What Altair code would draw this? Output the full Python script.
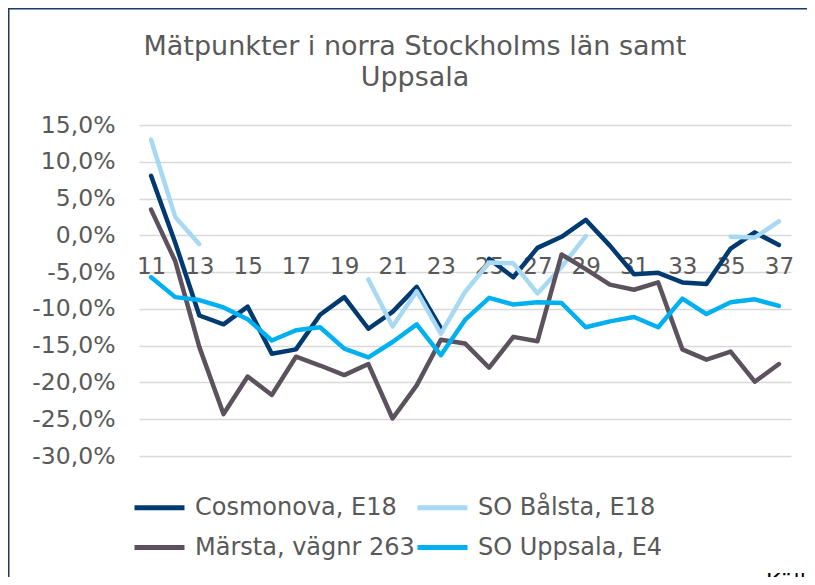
import altair as alt
import pandas as pd

weeks = list(range(11, 38))
# legend fills column by column, so this order gives rows: Cosmonova | SO Bålsta, Märsta | SO Uppsala
series_names = ["Cosmonova, E18", "Märsta, vägnr 263", "SO Bålsta, E18", "SO Uppsala, E4"]
series_colors = ["#003A70", "#5C525E", "#A7D9F2", "#00B0F0"]

cosmonova = [8.1, -1.0, -10.9, -12.1, -9.7, -16.1, -15.5, -10.8, -8.4, -12.7, -10.4, -7.0, -12.6,
             None, -3.2, -5.7, -1.7, -0.2, 2.1, -1.4, -5.3, -5.1, -6.4, -6.6, -1.8, 0.4, -1.3]
so_balsta = [13.0, 2.5, -1.2, None, None, None, None, None, None, -6.0, -12.4, -7.6, -13.4,
             -7.7, -3.7, -3.8, -7.9, -4.3, -0.1, None, None, None, None, None, -0.2, -0.3, 1.9]
marsta = [3.5, -3.5, -15.2, -24.3, -19.2, -21.7, -16.5, -17.7, -19.0, -17.5, -24.9, -20.4, -14.2,
          -14.7, -18.0, -13.8, -14.4, -2.6, -4.6, -6.7, -7.4, -6.4, -15.5, -16.9, -15.8, -19.9, -17.5]
so_uppsala = [-5.7, -8.4, -8.8, -9.8, -11.4, -14.3, -12.9, -12.5, -15.4, -16.6, -14.5, -12.1, -16.3,
              -11.5, -8.5, -9.4, -9.1, -9.2, -12.5, -11.7, -11.1, -12.5, -8.6, -10.7, -9.1, -8.7, -9.6]
series_values = {
    "Cosmonova, E18": cosmonova,
    "SO Bålsta, E18": so_balsta,
    "Märsta, vägnr 263": marsta,
    "SO Uppsala, E4": so_uppsala,
}

y_ticks = [15, 10, 5, 0, -5, -10, -15, -20, -25, -30]
x_ticks = list(range(11, 38, 2))

title_line1 = "Mätpunkter i norra Stockholms län samt"
title_line2 = "Uppsala"
source_text = "Källa: Trafikverket"

# long table; a new segment starts after each gap so lines break at missing weeks
rows = []
for name, vals in series_values.items():
    seg = 0
    prev_none = False
    for w, v in zip(weeks, vals):
        if v is None:
            prev_none = True
            continue
        if prev_none:
            seg += 1
            prev_none = False
        rows.append({"week": w, "value": v, "series": name, "seg": f"{name}-{seg}"})
df = pd.DataFrame(rows)

FONT = "DejaVu Sans"
GREY = "#595959"
W, H = 652, 331
PAD_L, PAD_T = 131, 117
PAD_R = 799 - PAD_L - W
PAD_B = 569 - PAD_T - H

lines = alt.Chart(df).mark_line(strokeWidth=4.5, strokeCap="round", strokeJoin="round").encode(
    x=alt.X("week:Q",
            scale=alt.Scale(domain=[10.5, 37.5], nice=False, zero=False),
            axis=alt.Axis(values=x_ticks, format="d", title=None, grid=False, ticks=False,
                          domain=False, offset=-221, labelPadding=20, labelFontSize=23,
                          labelFont=FONT, labelColor=GREY)),
    y=alt.Y("value:Q",
            scale=alt.Scale(domain=[-30, 15], nice=False, zero=False),
            axis=alt.Axis(values=y_ticks, title=None, ticks=False, domain=False,
                          labelPadding=24, labelFontSize=23.5, labelFont=FONT, labelColor=GREY,
                          gridColor="#D9D9D9", gridWidth=1.5,
                          labelExpr="(datum.value < 0 ? '-' : '') + replace(format(abs(datum.value), '.1f'), '.', ',') + '%'")),
    color=alt.Color("series:N",
                    scale=alt.Scale(domain=series_names, range=series_colors),
                    legend=alt.Legend(title=None, orient="none", legendX=-7, legendY=355,
                                      columns=2, symbolType="stroke", symbolSize=2500,
                                      symbolStrokeWidth=5, labelFontSize=24, labelFont=FONT,
                                      labelColor=GREY, labelOffset=8, columnPadding=-9,
                                      rowPadding=-1, padding=0, labelLimit=400)),
    detail="seg:N",
    order="week:Q",
)

one = pd.DataFrame({"a": [0]})
border_left = alt.Chart(one).mark_rule(color="#1F3864", strokeWidth=1.5).encode(
    x=alt.value(-130.25), y=alt.value(-117), y2=alt.value(H + PAD_B))
border_top = alt.Chart(one).mark_rule(color="#1F3864", strokeWidth=1.5).encode(
    y=alt.value(-116.25), x=alt.value(-131), x2=alt.value(W + PAD_R))
title1 = alt.Chart(one).mark_text(align="center", baseline="middle", fontSize=27, font=FONT,
                                  color=GREY).encode(
    x=alt.value(276), y=alt.value(-78), text=alt.value(title_line1))
title2 = alt.Chart(one).mark_text(align="center", baseline="middle", fontSize=27, font=FONT,
                                  color=GREY).encode(
    x=alt.value(276), y=alt.value(-47), text=alt.value(title_line2))
source = alt.Chart(one).mark_text(align="left", baseline="top", fontSize=22, font=FONT,
                                  color="#000000").encode(
    x=alt.value(627), y=alt.value(447), text=alt.value(source_text))

chart = alt.layer(lines, border_left, border_top, title1, title2, source).properties(
    width=W, height=H,
    autosize=alt.AutoSizeParams(type="none"),
    padding={"left": PAD_L, "top": PAD_T, "right": PAD_R, "bottom": PAD_B},
).configure_view(stroke=None)

chart.save("out.html", embed_options={"renderer": "svg", "actions": False})
